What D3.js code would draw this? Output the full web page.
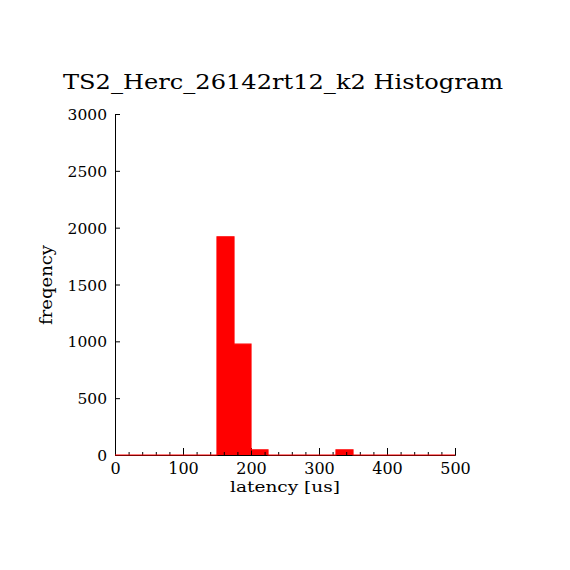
<!DOCTYPE html>
<html><head><meta charset="utf-8">
<script src="https://cdn.jsdelivr.net/npm/d3@7"></script>
<style>html,body{margin:0;padding:0;background:#fff;}svg{display:block;}</style>
</head><body>
<svg id="c" width="570" height="570"></svg>
<script>
const title = "TS2_Herc_26142rt12_k2 Histogram";
const xLabel = "latency [us]";
const yLabel = "freqency";
const binStarts = [0,25,50,75,100,125,150,175,200,225,250,275,300,325,350,375,400,425,450,475];
const binCounts = [0,0,0,0,0,0,1920,975,45,0,0,0,0,45,0,0,0,0,0,0];
const binWidth = 25;
const xTicks = [0,100,200,300,400,500];
const yTicks = [0,500,1000,1500,2000,2500,3000];

const svg = d3.select("#c");
const font = "DejaVu Serif";
const x = d3.scaleLinear().domain([0,500]).range([115,455]);
const y = d3.scaleLinear().domain([0,3000]).range([455,114]);

// bars
const bins = binStarts.map((s,i)=>({x0:s,x1:s+binWidth,v:binCounts[i]}));
svg.append("g").selectAll("rect").data(bins.filter(d=>d.v>0)).join("rect")
  .attr("x",d=>x(d.x0)).attr("width",d=>x(d.x1)-x(d.x0))
  .attr("y",d=>y(d.v)).attr("height",d=>y(0)-y(d.v))
  .attr("fill","#ff0000");

// axes
const yAxis = svg.append("g").attr("transform",`translate(${x(0)},0)`)
  .call(d3.axisLeft(y).tickValues(yTicks).tickSize(-5).tickPadding(8).tickFormat(d3.format("d")));
const xMinor = svg.append("g").attr("transform",`translate(0,${y(0)})`)
  .call(d3.axisBottom(x).tickValues(d3.range(0,501,20).filter(v=>v%100!==0)).tickSize(-3).tickFormat(""));
xMinor.select(".domain").remove();
const xAxis = svg.append("g").attr("transform",`translate(0,${y(0)})`)
  .call(d3.axisBottom(x).tickValues(xTicks).tickSize(-7).tickPadding(8).tickFormat(d3.format("d")));

[yAxis,xAxis,xMinor].forEach(g=>{
  g.selectAll("line").attr("stroke","#000").attr("stroke-width",1);
  g.select(".domain").attr("stroke","#000").attr("stroke-width",1);
  g.selectAll("text").attr("font-family",font).attr("font-size",15.5).attr("fill","#000");
});
yAxis.selectAll("text").attr("dy","0.36em");
xAxis.selectAll("text").attr("dy","0").attr("y",19).attr("font-size",16);

// red histogram outline along baseline
const pts = bins.map(d=>[d.x0,d.v]).concat([[500,0]]);
svg.append("path")
  .attr("d", d3.line().x(d=>x(d[0])).y(d=>y(d[1])).curve(d3.curveStepAfter)(pts))
  .attr("fill","none").attr("stroke","#ff0000").attr("stroke-width",1.2);

// texts
svg.append("text").attr("x",283).attr("y",89).attr("text-anchor","middle")
  .attr("font-family",font).attr("font-size",21).attr("textLength",440).attr("lengthAdjust","spacingAndGlyphs")
  .text(title);
svg.append("text").attr("x",285).attr("y",492).attr("text-anchor","middle")
  .attr("font-family",font).attr("font-size",15).attr("textLength",110).attr("lengthAdjust","spacingAndGlyphs")
  .text(xLabel);
svg.append("text").attr("transform","translate(52,285) rotate(-90)").attr("text-anchor","middle")
  .attr("font-family",font).attr("font-size",16).attr("textLength",80).attr("lengthAdjust","spacingAndGlyphs")
  .text(yLabel);
</script>
</body></html>
